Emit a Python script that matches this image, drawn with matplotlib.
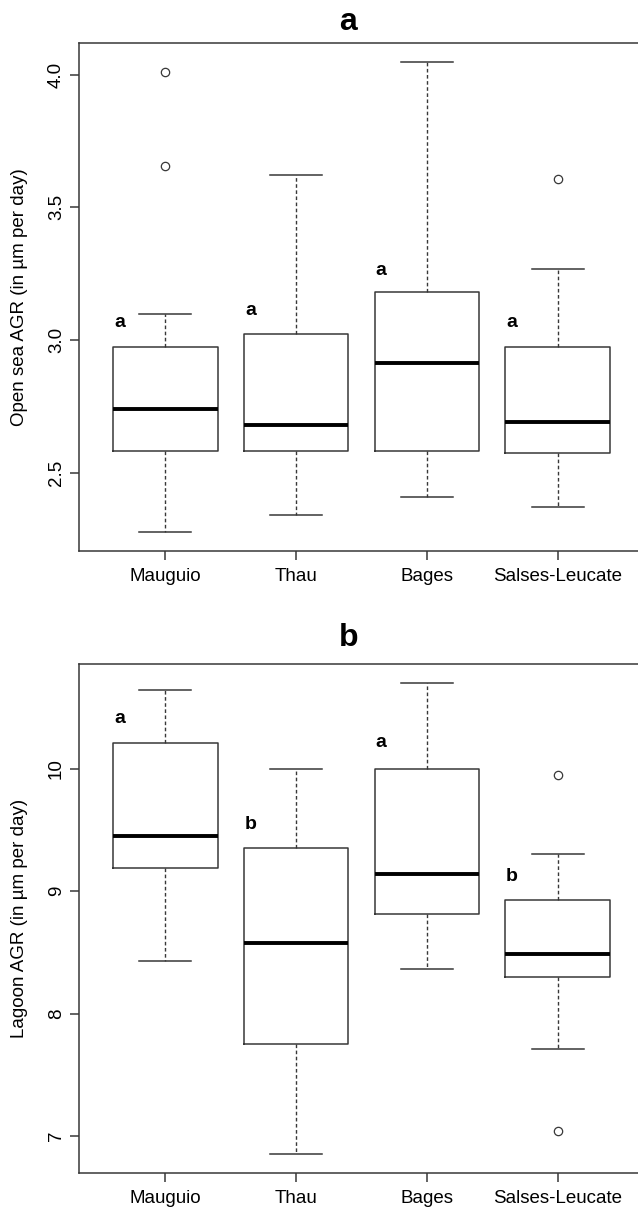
import numpy as np
import matplotlib
matplotlib.use('Agg')
import matplotlib.pyplot as plt

plt.rcParams['font.family'] = ['Liberation Sans', 'DejaVu Sans']

sites = ['Mauguio', 'Thau', 'Bages', 'Salses-Leucate']

# panel a : open sea AGR
sea_whislo = [2.277, 2.34, 2.409, 2.373]
sea_q1 = [2.583, 2.584, 2.584, 2.574]
sea_med = [2.74, 2.68, 2.915, 2.69]
sea_q3 = [2.973, 3.025, 3.18, 2.973]
sea_whishi = [3.099, 3.62, 4.048, 3.267]
sea_fliers = [[4.01, 3.655], [], [], [3.605]]
sea_letters = ['a', 'a', 'a', 'a']
sea_letter_y = [3.065, 3.113, 3.263, 3.065]
sea_ticks = [2.5, 3.0, 3.5, 4.0]
sea_ticklabels = ['2.5', '3.0', '3.5', '4.0']

# panel b : lagoon AGR
lag_whislo = [8.426, 6.85, 8.367, 7.71]
lag_q1 = [9.19, 7.75, 8.813, 8.30]
lag_med = [9.453, 8.58, 9.14, 8.487]
lag_q3 = [10.21, 9.35, 10.0, 8.93]
lag_whishi = [10.64, 10.0, 10.70, 9.30]
lag_fliers = [[], [], [], [9.95, 7.04]]
lag_letters = ['a', 'b', 'a', 'b']
lag_letter_y = [10.405, 9.54, 10.21, 9.12]
lag_ticks = [7, 8, 9, 10]
lag_ticklabels = ['7', '8', '9', '10']

LC = '#383838'


def draw_panel(ax, whislo, q1, med, q3, whishi, fliers, letters, letter_y,
               ticks, ticklabels, ylabel):
    stats = []
    for i in range(len(sites)):
        stats.append(dict(med=med[i], q1=q1[i], q3=q3[i], whislo=whislo[i],
                          whishi=whishi[i], fliers=fliers[i], label=sites[i]))
    pos = np.arange(1, len(sites) + 1)
    ax.bxp(stats, positions=pos, widths=0.8, capwidths=0.4, showfliers=True,
           boxprops=dict(color=LC, lw=1.1),
           medianprops=dict(color='black', lw=2.8, solid_capstyle='butt'),
           whiskerprops=dict(color=LC, lw=1.0, linestyle=(0, (2.6, 1.8))),
           capprops=dict(color=LC, lw=1.1),
           flierprops=dict(marker='o', markerfacecolor='none',
                           markeredgecolor=LC, markersize=6, mew=0.9))
    for p, t, y in zip(pos, letters, letter_y):
        ax.text(p - 0.35, y, t, ha='center', va='center',
                fontsize=14, fontweight='bold')

    # R style axis limits: 4% padding
    allv = list(whislo) + list(whishi) + [v for f in fliers for v in f]
    lo, hi = min(allv), max(allv)
    pad = 0.04 * (hi - lo)
    ax.set_ylim(lo - pad, hi + pad)
    ax.set_xlim(0.34, len(sites) + 0.66)

    ax.set_xticks(pos)
    ax.set_xticklabels(sites, fontsize=13.5)
    ax.set_yticks(ticks)
    ax.set_yticklabels(ticklabels, fontsize=13.5, rotation=90,
                       va='center', ha='right')
    ax.tick_params(axis='x', length=6.5, width=1.1, color=LC, pad=5.5)
    ax.tick_params(axis='y', length=6.5, width=1.1, color=LC, pad=3.5)
    for s in ax.spines.values():
        s.set_color(LC)
        s.set_linewidth(1.1)
    ax.set_ylabel(ylabel, fontsize=13.5)
    ax.yaxis.set_label_coords(-0.0894, 0.5)


fig = plt.figure(figsize=(6.38, 12.07), dpi=100)
ax1 = fig.add_axes([0.1238, 0.5435, 0.8856, 0.4209])
ax2 = fig.add_axes([0.1238, 0.0279, 0.8856, 0.4220])

draw_panel(ax1, sea_whislo, sea_q1, sea_med, sea_q3, sea_whishi, sea_fliers,
           sea_letters, sea_letter_y, sea_ticks, sea_ticklabels,
           'Open sea AGR (in µm per day)')
draw_panel(ax2, lag_whislo, lag_q1, lag_med, lag_q3, lag_whishi, lag_fliers,
           lag_letters, lag_letter_y, lag_ticks, lag_ticklabels,
           'Lagoon AGR (in µm per day)')

fig.text(348 / 638, 1 - 30 / 1207, 'a', ha='center', va='baseline',
         fontsize=23, fontweight='bold')
fig.text(349 / 638, 1 - 646 / 1207, 'b', ha='center', va='baseline',
         fontsize=23, fontweight='bold')

fig.savefig('out.png', dpi=100)
